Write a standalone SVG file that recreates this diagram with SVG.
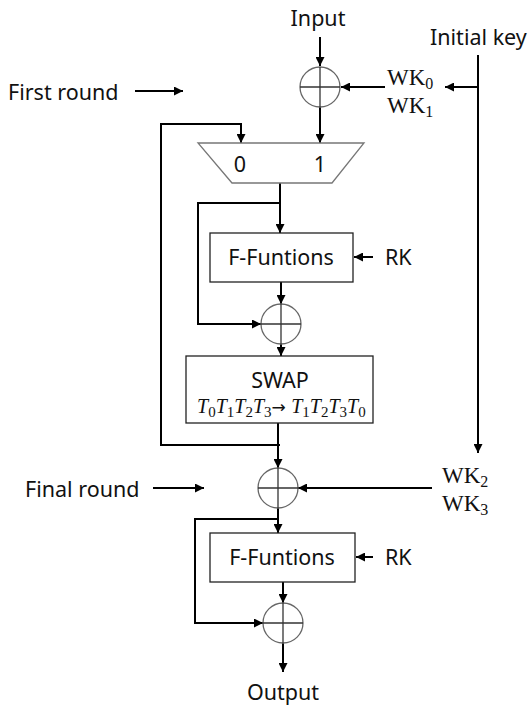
<svg xmlns="http://www.w3.org/2000/svg" width="531" height="707" viewBox="0 0 531 707">
<defs>
<marker id="ah" viewBox="0 0 10 10" refX="10" refY="5" markerWidth="9" markerHeight="9" markerUnits="userSpaceOnUse" orient="auto">
<path d="M0,0 L10,5 L0,10 z" fill="#000"/>
</marker>
<style>
.t{font-family:"Noto Sans","Open Sans","DejaVu Sans",sans-serif;font-size:21.5px;fill:#111}
.s{font-family:"Liberation Serif","DejaVu Serif",serif;font-size:23px;fill:#111}
.i{font-family:"Liberation Serif","DejaVu Serif",serif;font-size:20px;font-style:italic;fill:#111}
.sub{font-size:15px}
.ws{font-size:16px}
.up{font-style:normal}
.a{stroke:#000;stroke-width:2;fill:none;marker-end:url(#ah)}
.x{fill:#fff;stroke:#666;stroke-width:1.3}
.xl{stroke:#333;stroke-width:1.3}
.b{fill:#fff;stroke:#222;stroke-width:1.3}
</style>
</defs>
<g id="connectors">
<path class="a" d="M320 37 V66"/>
<path class="a" d="M385 87 H341"/>
<path class="a" d="M478 55 V453"/>
<path class="a" d="M478 87 H445"/>
<path class="a" d="M320 107 V143"/>
<path class="a" d="M280 445 H161 V124 H241 V143"/>
<path class="a" d="M280 183 V233"/>
<path class="a" d="M280 203 H198 V324 H261"/>
<path class="a" d="M373 257 H354"/>
<path class="a" d="M281 282 V304"/>
<path class="a" d="M281 344 V356"/>
<path class="a" d="M278 423 V468"/>
<path class="a" d="M135 91 H183"/>
<path class="a" d="M153 488 H204"/>
<path class="a" d="M432 488 H298"/>
<path class="a" d="M278 508 V533"/>
<path class="a" d="M278 519 H195 V623 H263"/>
<path class="a" d="M373 557 H356"/>
<path class="a" d="M283 582 V603"/>
<path class="a" d="M283 643 V672"/>
</g>
<g id="xor1"><circle class="x" cx="320" cy="87" r="20"/><line class="xl" x1="300" y1="87" x2="340" y2="87"/><line class="xl" x1="320" y1="67" x2="320" y2="107"/></g>
<g id="mux"><polygon points="198,143 364,143 332,183 232,183" fill="#fff" stroke="#777" stroke-width="1.3"/><text class="t" x="240" y="172" text-anchor="middle">0</text><text class="t" x="320" y="172" text-anchor="middle">1</text></g>
<g id="f1"><rect class="b" x="210" y="233" width="143" height="49"/><text class="t" x="281" y="265" text-anchor="middle">F-Funtions</text></g>
<g id="xor2"><circle class="x" cx="281" cy="324" r="20"/><line class="xl" x1="261" y1="324" x2="301" y2="324"/><line class="xl" x1="281" y1="304" x2="281" y2="344"/></g>
<g id="swap"><rect class="b" x="186" y="356" width="187" height="67"/><text class="t" x="280" y="388" text-anchor="middle">SWAP</text>
<text class="i" x="197" y="413">T<tspan class="sub up" dy="4">0</tspan><tspan dy="-4">T</tspan><tspan class="sub up" dy="4">1</tspan><tspan dy="-4">T</tspan><tspan class="sub up" dy="4">2</tspan><tspan dy="-4">T</tspan><tspan class="sub up" dy="4">3</tspan><tspan class="up" dy="-4" font-family="DejaVu Sans" font-size="17">→ </tspan><tspan>T</tspan><tspan class="sub up" dy="4">1</tspan><tspan dy="-4">T</tspan><tspan class="sub up" dy="4">2</tspan><tspan dy="-4">T</tspan><tspan class="sub up" dy="4">3</tspan><tspan dy="-4">T</tspan><tspan class="sub up" dy="4">0</tspan></text></g>
<g id="xor3"><circle class="x" cx="278" cy="488" r="20"/><line class="xl" x1="258" y1="488" x2="298" y2="488"/><line class="xl" x1="278" y1="468" x2="278" y2="508"/></g>
<g id="f2"><rect class="b" x="210" y="533" width="145" height="49"/><text class="t" x="282" y="565" text-anchor="middle">F-Funtions</text></g>
<g id="xor4"><circle class="x" cx="283" cy="623" r="20"/><line class="xl" x1="263" y1="623" x2="303" y2="623"/><line class="xl" x1="283" y1="603" x2="283" y2="643"/></g>
<g id="labels">
<text class="t" x="318" y="26" text-anchor="middle">Input</text>
<text class="t" x="430" y="45">Initial key</text>
<text class="t" x="8" y="100">First round</text>
<text class="t" x="25" y="497">Final round</text>
<text class="t" x="385" y="265">RK</text>
<text class="t" x="385" y="565">RK</text>
<text class="t" x="283" y="700" text-anchor="middle">Output</text>
<text class="s" x="387" y="85">WK<tspan class="ws" dy="4">0</tspan></text>
<text class="s" x="387" y="113">WK<tspan class="ws" dy="4">1</tspan></text>
<text class="s" x="442" y="483">WK<tspan class="ws" dy="4">2</tspan></text>
<text class="s" x="442" y="511">WK<tspan class="ws" dy="4">3</tspan></text>
</g>
</svg>
